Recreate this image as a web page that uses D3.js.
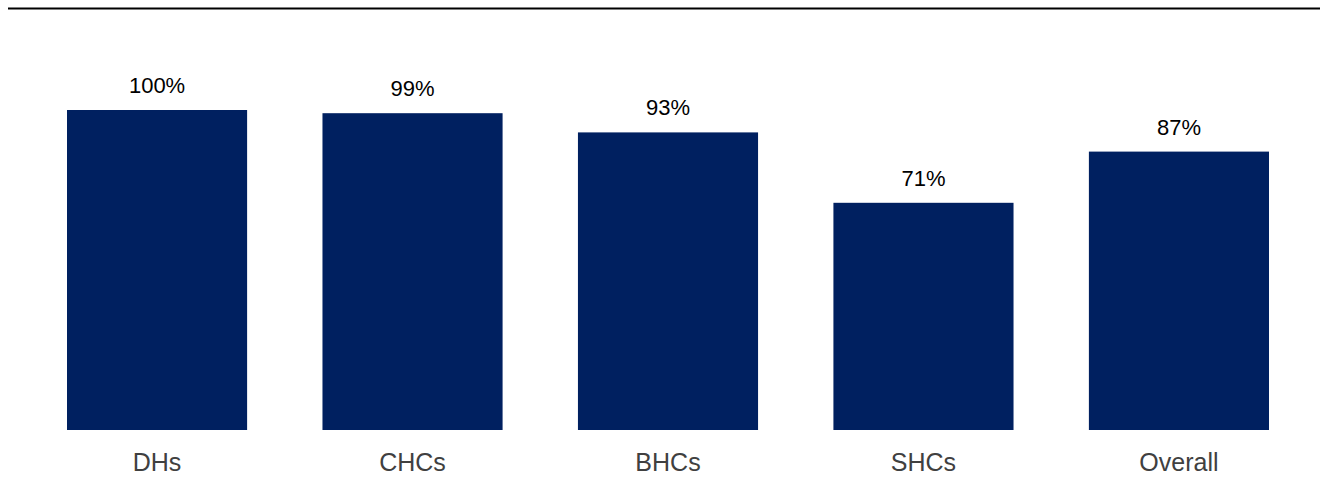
<!DOCTYPE html>
<html>
<head>
  <script src="https://d3js.org/d3.v7.min.js"></script>
  <style>
    body { margin: 0; background: #ffffff; }
    text { font-family: "Liberation Sans", Arial, sans-serif; }
  </style>
</head>
<body>
  <svg id="canvas" width="1325" height="497"></svg>
</body>
<script>
  // values
  const categories = ["DHs", "CHCs", "BHCs", "SHCs", "Overall"];
  const values = [100, 99, 93, 71, 87];
  const valueLabels = ["100%", "99%", "93%", "71%", "87%"];

  const svg = d3.select("svg");

  const x = d3.scaleBand()
    .domain(categories)
    .range([67, 1269])
    .paddingInner(0.295)
    .paddingOuter(0);

  const y = d3.scaleLinear()
    .domain([0, 100])
    .range([430, 110]);

  // rule across the top
  svg.append("line")
    .attr("x1", 8).attr("x2", 1320)
    .attr("y1", 8.5).attr("y2", 8.5)
    .attr("stroke", "#000")
    .attr("stroke-width", 2);

  svg.selectAll("rect.bar")
    .data(values)
    .join("rect")
    .attr("class", "bar")
    .attr("x", (d, i) => x(categories[i]))
    .attr("width", x.bandwidth())
    .attr("y", d => y(d))
    .attr("height", d => y(0) - y(d))
    .attr("fill", "#002060");

  svg.selectAll("text.value")
    .data(values)
    .join("text")
    .attr("class", "value")
    .attr("x", (d, i) => x(categories[i]) + x.bandwidth() / 2)
    .attr("y", d => y(d) - 17)
    .attr("text-anchor", "middle")
    .attr("font-size", 22)
    .attr("fill", "#000")
    .text((d, i) => valueLabels[i]);

  // category axis, no line or ticks
  const axis = svg.append("g")
    .attr("transform", `translate(0,${y(0)})`)
    .call(d3.axisBottom(x).tickSize(0).tickPadding(0));
  axis.select(".domain").remove();
  axis.selectAll("text")
    .attr("y", 41)
    .attr("dy", null)
    .attr("font-size", 25)
    .attr("font-family", "Liberation Sans, Arial, sans-serif")
    .attr("fill", "#404040");
</script>
</html>
